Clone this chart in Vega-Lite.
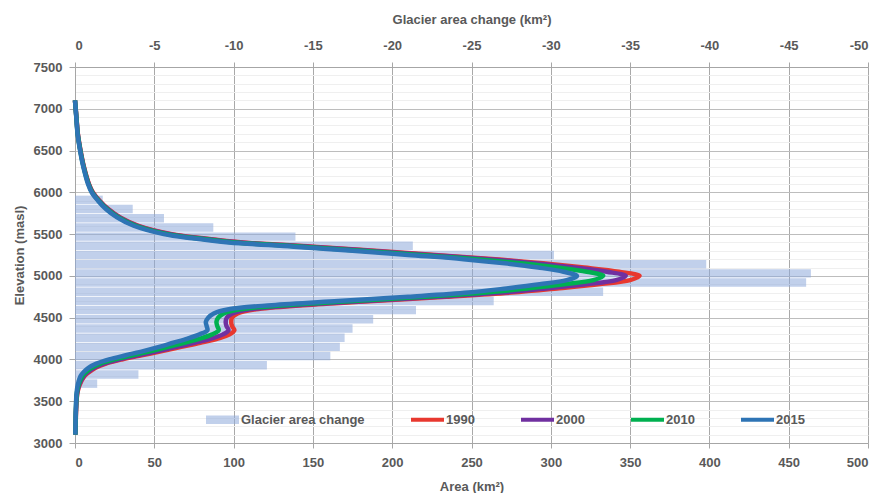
{
  "$schema": "https://vega.github.io/schema/vega-lite/v6.json",
  "width": 793,
  "height": 376,
  "autosize": {"type": "none"},
  "padding": {"left": 75, "top": 67, "right": 14, "bottom": 50},
  "background": "white",
  "config": {
    "view": {"stroke": null},
    "font": "Liberation Sans",
    "axis": {
      "labelFont": "Liberation Sans",
      "labelFontSize": 13,
      "labelFontWeight": "bold",
      "labelColor": "#595959",
      "titleFont": "Liberation Sans",
      "titleFontSize": 13,
      "titleFontWeight": "bold",
      "titleColor": "#595959",
      "domainColor": "#a6a6a6",
      "tickColor": "#a6a6a6",
      "gridColor": "#a9a9a9"
    }
  },
  "datasets": {
    "bars": [
      {"band": 5600, "change": -1.75},
      {"band": 5500, "change": -3.64},
      {"band": 5400, "change": -5.61},
      {"band": 5300, "change": -8.72},
      {"band": 5200, "change": -13.9},
      {"band": 5100, "change": -21.3},
      {"band": 5000, "change": -30.2},
      {"band": 4900, "change": -39.8},
      {"band": 4800, "change": -46.4},
      {"band": 4700, "change": -46.1},
      {"band": 4600, "change": -33.3},
      {"band": 4500, "change": -26.4},
      {"band": 4400, "change": -21.5},
      {"band": 4300, "change": -18.8},
      {"band": 4200, "change": -17.5},
      {"band": 4100, "change": -17.0},
      {"band": 4000, "change": -16.7},
      {"band": 3900, "change": -16.1},
      {"band": 3800, "change": -12.1},
      {"band": 3700, "change": -4.0},
      {"band": 3600, "change": -1.4}
    ],
    "curves": [
      {"elev": 7100, "1990": 0, "2000": 0, "2010": 0, "2015": 0},
      {"elev": 6900, "1990": 0.9, "2000": 0.88, "2010": 0.84, "2015": 0.8},
      {"elev": 6700, "1990": 1.8, "2000": 1.76, "2010": 1.68, "2015": 1.6},
      {"elev": 6500, "1990": 3.5, "2000": 3.43, "2010": 3.33, "2015": 3.2},
      {"elev": 6300, "1990": 5.7, "2000": 5.61, "2010": 5.47, "2015": 5.3},
      {"elev": 6100, "1990": 8.8, "2000": 8.67, "2010": 8.45, "2015": 8.2},
      {"elev": 6000, "1990": 11.3, "2000": 11.1, "2010": 10.8, "2015": 10.5},
      {"elev": 5900, "1990": 15.5, "2000": 15.3, "2010": 14.9, "2015": 14.5},
      {"elev": 5800, "1990": 21, "2000": 20.7, "2010": 20.1, "2015": 19.5},
      {"elev": 5700, "1990": 28.5, "2000": 28.1, "2010": 27.3, "2015": 26.5},
      {"elev": 5600, "1990": 40, "2000": 39.3, "2010": 38.3, "2015": 37},
      {"elev": 5500, "1990": 61, "2000": 59.9, "2010": 58.1, "2015": 56},
      {"elev": 5450, "1990": 81, "2000": 79.5, "2010": 76.9, "2015": 74},
      {"elev": 5400, "1990": 106, "2000": 104, "2010": 100.8, "2015": 97},
      {"elev": 5350, "1990": 150, "2000": 147.4, "2010": 143, "2015": 138},
      {"elev": 5300, "1990": 189, "2000": 185.9, "2010": 180.9, "2015": 175},
      {"elev": 5250, "1990": 227, "2000": 223.3, "2010": 217.1, "2015": 210},
      {"elev": 5200, "1990": 265, "2000": 260.6, "2010": 253.4, "2015": 245},
      {"elev": 5150, "1990": 295, "2000": 289.7, "2010": 281.1, "2015": 271},
      {"elev": 5100, "1990": 321, "2000": 314.6, "2010": 304.2, "2015": 292},
      {"elev": 5050, "1990": 343, "2000": 335.3, "2010": 322.7, "2015": 308},
      {"elev": 5000, "1990": 356, "2000": 347.3, "2010": 333.1, "2015": 316.5},
      {"elev": 4950, "1990": 350, "2000": 341.2, "2010": 326.8, "2015": 310},
      {"elev": 4900, "1990": 330, "2000": 321.9, "2010": 308.5, "2015": 293},
      {"elev": 4850, "1990": 304, "2000": 297, "2010": 285.4, "2015": 272},
      {"elev": 4800, "1990": 275, "2000": 269.1, "2010": 259.3, "2015": 248},
      {"elev": 4750, "1990": 234, "2000": 228.7, "2010": 220.1, "2015": 210},
      {"elev": 4700, "1990": 188, "2000": 183.2, "2010": 175.2, "2015": 166},
      {"elev": 4650, "1990": 144, "2000": 139.6, "2010": 132.4, "2015": 124},
      {"elev": 4600, "1990": 114, "2000": 110.3, "2010": 104.1, "2015": 97},
      {"elev": 4550, "1990": 102.5, "2000": 99.2, "2010": 93.8, "2015": 87.5},
      {"elev": 4500, "1990": 99, "2000": 95.7, "2010": 90.3, "2015": 84},
      {"elev": 4450, "1990": 98.5, "2000": 95, "2010": 89.2, "2015": 82.5},
      {"elev": 4400, "1990": 99, "2000": 95.5, "2010": 89.7, "2015": 83},
      {"elev": 4350, "1990": 100.5, "2000": 96.8, "2010": 90.6, "2015": 83.5},
      {"elev": 4300, "1990": 97.5, "2000": 93.3, "2010": 86.5, "2015": 78.5},
      {"elev": 4250, "1990": 90, "2000": 85.8, "2010": 79, "2015": 71},
      {"elev": 4200, "1990": 79, "2000": 75.3, "2010": 69.1, "2015": 62},
      {"elev": 4150, "1990": 67, "2000": 63.9, "2010": 58.9, "2015": 53},
      {"elev": 4100, "1990": 55, "2000": 52.4, "2010": 48, "2015": 43},
      {"elev": 4050, "1990": 42, "2000": 39.8, "2010": 36.2, "2015": 32},
      {"elev": 4000, "1990": 29.5, "2000": 27.7, "2010": 24.9, "2015": 21.5},
      {"elev": 3950, "1990": 19.5, "2000": 18.2, "2010": 16, "2015": 13.5},
      {"elev": 3900, "1990": 13, "2000": 12, "2010": 10.4, "2015": 8.5},
      {"elev": 3850, "1990": 9, "2000": 8.2, "2010": 7, "2015": 5.5},
      {"elev": 3800, "1990": 6, "2000": 5.5, "2010": 4.6, "2015": 3.5},
      {"elev": 3700, "1990": 3, "2000": 2.7, "2010": 2.3, "2015": 1.8},
      {"elev": 3600, "1990": 1.5, "2000": 1.4, "2010": 1.2, "2015": 1},
      {"elev": 3400, "1990": 0.7, "2000": 0.66, "2010": 0.58, "2015": 0.5},
      {"elev": 3200, "1990": 0.4, "2000": 0.38, "2010": 0.34, "2015": 0.3},
      {"elev": 3100, "1990": 0.2, "2000": 0.2, "2010": 0.2, "2015": 0.2}
    ]
  },
  "layer": [
    {
      "data": {"name": "bars"},
      "mark": {"type": "bar", "opacity": 0.55},
      "encoding": {
        "y": {
          "field": "band",
          "type": "ordinal",
          "scale": {
            "domain": [7000, 6900, 6800, 6700, 6600, 6500, 6400, 6300, 6200, 6100, 6000, 5900, 5800, 5700, 5600, 5500, 5400, 5300, 5200, 5100, 5000, 4900, 4800, 4700, 4600, 4500, 4400, 4300, 4200, 4100, 4000, 3900, 3800, 3700, 3600, 3500, 3400, 3300, 3200, 3100, 3000],
            "paddingInner": 0.08,
            "paddingOuter": 0
          },
          "axis": null
        },
        "x": {
          "field": "change",
          "type": "quantitative",
          "scale": {"domain": [0, -50], "nice": false},
          "axis": {
            "orient": "top",
            "values": [0, -5, -10, -15, -20, -25, -30, -35, -40, -45, -50],
            "labelExpr": "toString(datum.value)",
            "title": "Glacier area change (km²)",
            "grid": false,
            "tickSize": 5,
            "labelPadding": 10,
            "titlePadding": 13
          }
        },
        "color": {"datum": "Glacier area change", "type": "nominal"}
      }
    },
    {
      "data": {"name": "curves"},
      "transform": [{"fold": ["1990", "2000", "2010", "2015"], "as": ["year", "area"]}],
      "mark": {"type": "line", "strokeWidth": 4.5, "interpolate": "catmull-rom"},
      "encoding": {
        "x": {
          "field": "area",
          "type": "quantitative",
          "scale": {"domain": [0, 500], "nice": false, "zero": false},
          "axis": {
            "orient": "bottom",
            "values": [0, 50, 100, 150, 200, 250, 300, 350, 400, 450, 500],
            "format": "d",
            "title": "Area (km²)",
            "grid": true,
            "tickSize": 5,
            "labelPadding": 8,
            "titlePadding": 11
          }
        },
        "y": {
          "field": "elev",
          "type": "quantitative",
          "scale": {"domain": [3000, 7500], "nice": false, "zero": false},
          "axis": {
            "values": [3000, 3100, 3200, 3300, 3400, 3500, 3600, 3700, 3800, 3900, 4000, 4100, 4200, 4300, 4400, 4500, 4600, 4700, 4800, 4900, 5000, 5100, 5200, 5300, 5400, 5500, 5600, 5700, 5800, 5900, 6000, 6100, 6200, 6300, 6400, 6500, 6600, 6700, 6800, 6900, 7000, 7100, 7200, 7300, 7400, 7500],
            "format": "d",
            "labelExpr": "datum.value % 500 === 0 ? datum.label : ''",
            "grid": true,
            "gridColor": {"condition": {"test": "datum.value % 500 === 0", "value": "#bdbdbd"}, "value": "#efefef"},
            "tickColor": {"condition": {"test": "datum.value % 500 === 0", "value": "#a6a6a6"}, "value": "transparent"},
            "tickSize": 6,
            "labelPadding": 7,
            "title": "Elevation (masl)",
            "titlePadding": 7
          }
        },
        "color": {
          "field": "year",
          "type": "nominal",
          "scale": {
            "domain": ["Glacier area change", "1990", "2000", "2010", "2015"],
            "range": ["#8eaadb", "#e8382f", "#7030a0", "#00b050", "#2e74b5"]
          },
          "legend": {
            "orient": "none",
            "legendX": 131,
            "legendY": 336,
            "direction": "horizontal",
            "title": null,
            "padding": 0,
            "symbolType": "square",
            "symbolSize": 1089,
            "symbolStrokeWidth": 0,
            "labelFont": "Liberation Sans",
            "labelFontSize": 13,
            "labelFontWeight": "bold",
            "labelColor": "#595959",
            "labelOffset": 2,
            "columnPadding": 46,
            "encode": {
              "symbols": {
                "update": {
                  "shape": {"signal": "datum.value === 'Glacier area change' ? 'M-1,-0.26H1V0.26H-1Z' : 'M-1,-0.12H1V0.12H-1Z'"},
                  "fill": {"signal": "scale('color', datum.value)"},
                  "fillOpacity": {"signal": "datum.value === 'Glacier area change' ? 0.55 : 1"},
                  "strokeWidth": {"value": 0},
                  "opacity": {"value": 1}
                }
              }
            }
          }
        },
        "order": {"field": "elev", "type": "quantitative"}
      }
    }
  ],
  "resolve": {"scale": {"x": "independent", "y": "independent"}}
}
